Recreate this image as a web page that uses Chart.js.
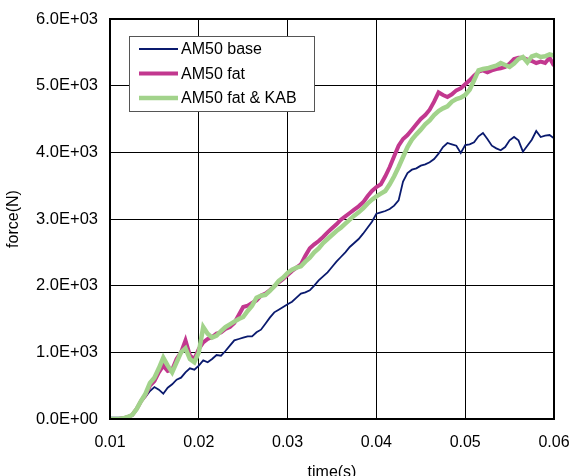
<!DOCTYPE html>
<html><head><meta charset="utf-8">
<script src="https://cdn.jsdelivr.net/npm/chart.js@4"></script>
<style>html,body{margin:0;padding:0;background:#fff;overflow:hidden}#wrap{width:569px;height:476px}</style>
</head><body><div id="wrap"><canvas id="c" width="569" height="476"></canvas></div>
<script>
const time = [0.0100,0.0105,0.0110,0.0115,0.0120,0.0125,0.0130,0.0135,0.0140,0.0145,
0.0150,0.0155,0.0160,0.0165,0.0170,0.0175,0.0180,0.0185,0.0190,0.0195,
0.0200,0.0205,0.0210,0.0215,0.0220,0.0225,0.0230,0.0235,0.0240,0.0245,
0.0250,0.0255,0.0260,0.0265,0.0270,0.0275,0.0280,0.0285,0.0290,0.0295,
0.0300,0.0305,0.0310,0.0315,0.0320,0.0325,0.0330,0.0335,0.0340,0.0345,
0.0350,0.0355,0.0360,0.0365,0.0370,0.0375,0.0380,0.0385,0.0390,0.0395,
0.0400,0.0405,0.0410,0.0415,0.0420,0.0425,0.0430,0.0435,0.0440,0.0445,
0.0450,0.0455,0.0460,0.0465,0.0470,0.0475,0.0480,0.0485,0.0490,0.0495,
0.0500,0.0505,0.0510,0.0515,0.0520,0.0525,0.0530,0.0535,0.0540,0.0545,
0.0550,0.0555,0.0560,0.0565,0.0570,0.0575,0.0580,0.0585,0.0590,0.0595,0.0600];

const am50Base = [20,20,20,20,30,60,150,270,330,420,
480,440,380,470,520,590,620,700,760,740,
800,880,850,900,960,950,1020,1100,1180,1200,
1220,1240,1240,1300,1340,1430,1520,1600,1640,1680,
1720,1760,1820,1880,1900,1930,2000,2080,2140,2200,
2280,2360,2430,2500,2580,2640,2700,2780,2870,2960,
3080,3100,3120,3150,3200,3280,3560,3690,3740,3760,
3800,3820,3850,3900,3980,4080,4140,4120,4100,3990,
4110,4120,4150,4240,4290,4200,4100,4060,4030,4080,
4180,4230,4180,4010,4100,4190,4320,4230,4250,4260,4210];

const am50Fat = [0,0,0,10,30,60,150,270,360,500,
570,700,800,720,740,900,1000,1180,950,900,
1050,1150,1200,1230,1280,1300,1350,1380,1440,1560,
1680,1700,1740,1780,1850,1880,1930,1990,2050,2100,
2160,2220,2270,2320,2450,2560,2620,2670,2730,2800,
2860,2920,2990,3040,3090,3140,3190,3250,3340,3420,
3480,3520,3640,3780,3940,4100,4200,4260,4340,4420,
4500,4560,4640,4760,4900,4860,4830,4870,4930,4960,
5020,5080,5150,5210,5230,5200,5230,5250,5260,5280,
5330,5400,5420,5420,5390,5370,5340,5360,5340,5420,5300];

const am50FatKab = [0,0,0,10,30,60,150,270,380,540,
620,760,920,800,700,850,1000,1060,900,850,
1000,1380,1280,1220,1250,1320,1380,1420,1460,1500,
1530,1620,1700,1820,1850,1860,1920,1990,2070,2120,
2190,2240,2270,2290,2360,2420,2500,2560,2640,2700,
2760,2820,2870,2930,2990,3050,3100,3160,3230,3290,
3340,3380,3420,3520,3640,3780,3930,4080,4190,4270,
4340,4420,4480,4560,4620,4660,4690,4760,4800,4820,
4860,4940,5080,5230,5250,5260,5280,5300,5340,5310,
5280,5330,5400,5430,5350,5440,5460,5430,5440,5470,5450];

const seriesLabels = ['AM50 base', 'AM50 fat', 'AM50 fat & KAB'];
const xTicks = [0.01, 0.02, 0.03, 0.04, 0.05, 0.06];
const yTicks = [0, 1000, 2000, 3000, 4000, 5000, 6000];

const FONT = '"Liberation Sans", Arial, sans-serif';
const colors = ['#0a1a6e', '#c2388f', '#a2d38b'];
const widths = [1.8, 4, 4.5];

function toPts(ys) { return time.map((t, i) => ({x: t, y: ys[i]})); }
function fmtE(v) {
  if (v === 0) return '0.0E+00';
  const e = Math.floor(Math.log10(Math.abs(v)));
  const m = v / Math.pow(10, e);
  return m.toFixed(1) + 'E' + (e < 0 ? '-' : '+') + String(Math.abs(e)).padStart(2, '0');
}

const frame = {
  id: 'frame',
  afterDatasetsDraw(chart) {
    const {ctx, chartArea: a} = chart;
    ctx.save();
    ctx.strokeStyle = '#000';
    ctx.lineWidth = 2;
    ctx.strokeRect(a.left, a.top, a.right - a.left, a.bottom - a.top);
    // legend box
    const bx = 129.5, by = 36.5, bw = 185, bh = 75;
    ctx.fillStyle = '#fff';
    ctx.fillRect(bx, by, bw, bh);
    ctx.lineWidth = 1;
    ctx.strokeStyle = '#555';
    ctx.strokeRect(bx, by, bw, bh);
    const rows = [49, 73.5, 98];
    ctx.font = '16px ' + FONT;
    ctx.textBaseline = 'middle';
    ctx.textAlign = 'left';
    chart.data.datasets.forEach((ds, i) => {
      ctx.strokeStyle = ds.borderColor;
      ctx.lineWidth = ds.borderWidth;
      ctx.beginPath();
      ctx.moveTo(139, rows[i]);
      ctx.lineTo(178, rows[i]);
      ctx.stroke();
      ctx.fillStyle = '#000';
      ctx.fillText(ds.label, 181, rows[i] + 1);
    });
    ctx.restore();
  }
};

new Chart(document.getElementById('c'), {
  type: 'line',
  data: {
    datasets: [am50Base, am50Fat, am50FatKab].map((d, i) => ({
      label: seriesLabels[i],
      data: toPts(d),
      borderColor: colors[i],
      backgroundColor: colors[i],
      borderWidth: widths[i],
      pointRadius: 0,
      tension: 0,
      fill: false,
      order: 2 - i
    }))
  },
  options: {
    responsive: false,
    animation: false,
    events: [],
    layout: {padding: {top: 19, right: 15, left: 0, bottom: -6}},
    plugins: {legend: {display: false}, tooltip: {enabled: false}},
    scales: {
      x: {
        type: 'linear', min: 0.01, max: 0.06,
        afterBuildTicks: s => { s.ticks = xTicks.map(v => ({value: v})); },
        afterFit: s => { s.height = 63; s.paddingRight = 0; s.paddingLeft = 0; },
        ticks: {padding: 14, color: '#000', font: {family: FONT, size: 16}, callback: v => v.toFixed(2), maxRotation: 0},
        grid: {color: '#000', lineWidth: 1, drawTicks: false},
        border: {color: '#000', width: 2},
        title: {display: true, text: 'time(s)', color: '#000', font: {family: FONT, size: 16}, padding: 0}
      },
      y: {
        min: 0, max: 6000,
        afterBuildTicks: s => { s.ticks = yTicks.map(v => ({value: v})); },
        afterFit: s => { s.width = 110; s.paddingTop = 0; s.paddingBottom = 0; },
        ticks: {padding: 12, color: '#000', font: {family: FONT, size: 16.5}, callback: v => fmtE(v)},
        grid: {color: '#000', lineWidth: 1, drawTicks: false},
        border: {color: '#000', width: 2},
        title: {display: true, text: 'force(N)', color: '#000', font: {family: FONT, size: 16}, padding: {top: 4, bottom: 0}}
      }
    }
  },
  plugins: [frame]
});
</script></body></html>
